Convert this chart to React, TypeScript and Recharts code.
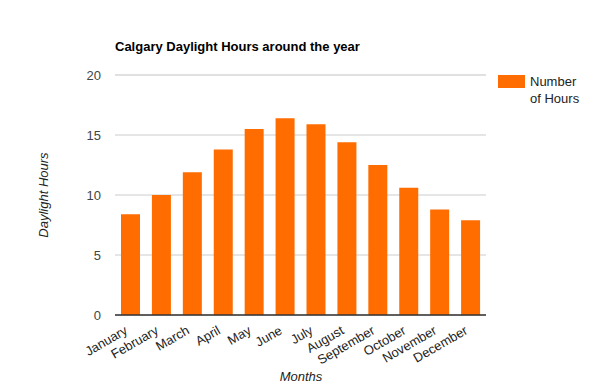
import { BarChart, Bar, XAxis, YAxis, CartesianGrid } from "recharts";

const months = [
  "January", "February", "March", "April", "May", "June",
  "July", "August", "September", "October", "November", "December",
];
const hours = [8.4, 10.0, 11.9, 13.8, 15.5, 16.4, 15.9, 14.4, 12.5, 10.6, 8.8, 7.9];
const majorTicks = [0, 5, 10, 15, 20];
const minorTicks = [2.5, 7.5, 12.5, 17.5];
const seriesName = "Number of Hours";

const data = months.map((m, i) => ({ month: m, hours: hours[i] }));

const FONT = '"Liberation Sans", Arial, sans-serif';
const ORANGE = "#ff6d00";

// slanted month labels, anchored at their end
const MonthTick = (props: any) => {
  const { x, y, payload } = props;
  const px = x - 2;
  const py = y + 18;
  return (
    <text
      x={px}
      y={py}
      textAnchor="end"
      transform={`rotate(-30, ${px}, ${py})`}
      fill="#222"
      fontSize={13}
      fontFamily={FONT}
    >
      {payload.value}
    </text>
  );
};

export default function App() {
  return (
    <div style={{ position: "absolute", left: 0, top: 0, width: 600, height: 390, background: "#fff", fontFamily: FONT }}>
      <BarChart
        width={600}
        height={390}
        data={data}
        margin={{ top: 75, right: 114, bottom: 0, left: 0 }}
      >
        <CartesianGrid yAxisId="minor" vertical={false} stroke="#ebebeb" />
        <CartesianGrid vertical={false} stroke="#cccccc" />
        <XAxis
          dataKey="month"
          height={75}
          interval={0}
          tickLine={false}
          tickSize={0}
          tickMargin={0}
          axisLine={{ stroke: "#333", strokeWidth: 1.5 }}
          tick={<MonthTick />}
          label={{
            content: () => (
              <text x={301} y={381} textAnchor="middle" fontSize={13} fontStyle="italic" fill="#222" fontFamily={FONT}>
                Months
              </text>
            ),
          }}
        />
        <YAxis
          width={115}
          domain={[0, 20]}
          ticks={majorTicks}
          axisLine={false}
          tickLine={false}
          tickSize={0}
          tickMargin={14}
          tick={{ fill: "#444", fontSize: 13, fontFamily: FONT }}
          label={{
            content: () => (
              <text
                x={48}
                y={195}
                textAnchor="middle"
                transform="rotate(-90, 48, 195)"
                fontSize={13}
                fontStyle="italic"
                fill="#222"
                fontFamily={FONT}
              >
                Daylight Hours
              </text>
            ),
          }}
        />
        <YAxis yAxisId="minor" hide domain={[0, 20]} ticks={minorTicks} />
        <Bar dataKey="hours" name={seriesName} fill={ORANGE} barSize={19} isAnimationActive={false} />
      </BarChart>

      {/* title */}
      <div style={{ position: "absolute", left: 115, top: 39, fontSize: 13, fontWeight: "bold", color: "#000", whiteSpace: "nowrap" }}>
        Calgary Daylight Hours around the year
      </div>

      {/* legend */}
      <div style={{ position: "absolute", left: 498, top: 75, width: 27, height: 13, background: ORANGE }} />
      <div style={{ position: "absolute", left: 530, top: 73, width: 54, fontSize: 13, lineHeight: "17px", color: "#222" }}>
        {seriesName}
      </div>
    </div>
  );
}
